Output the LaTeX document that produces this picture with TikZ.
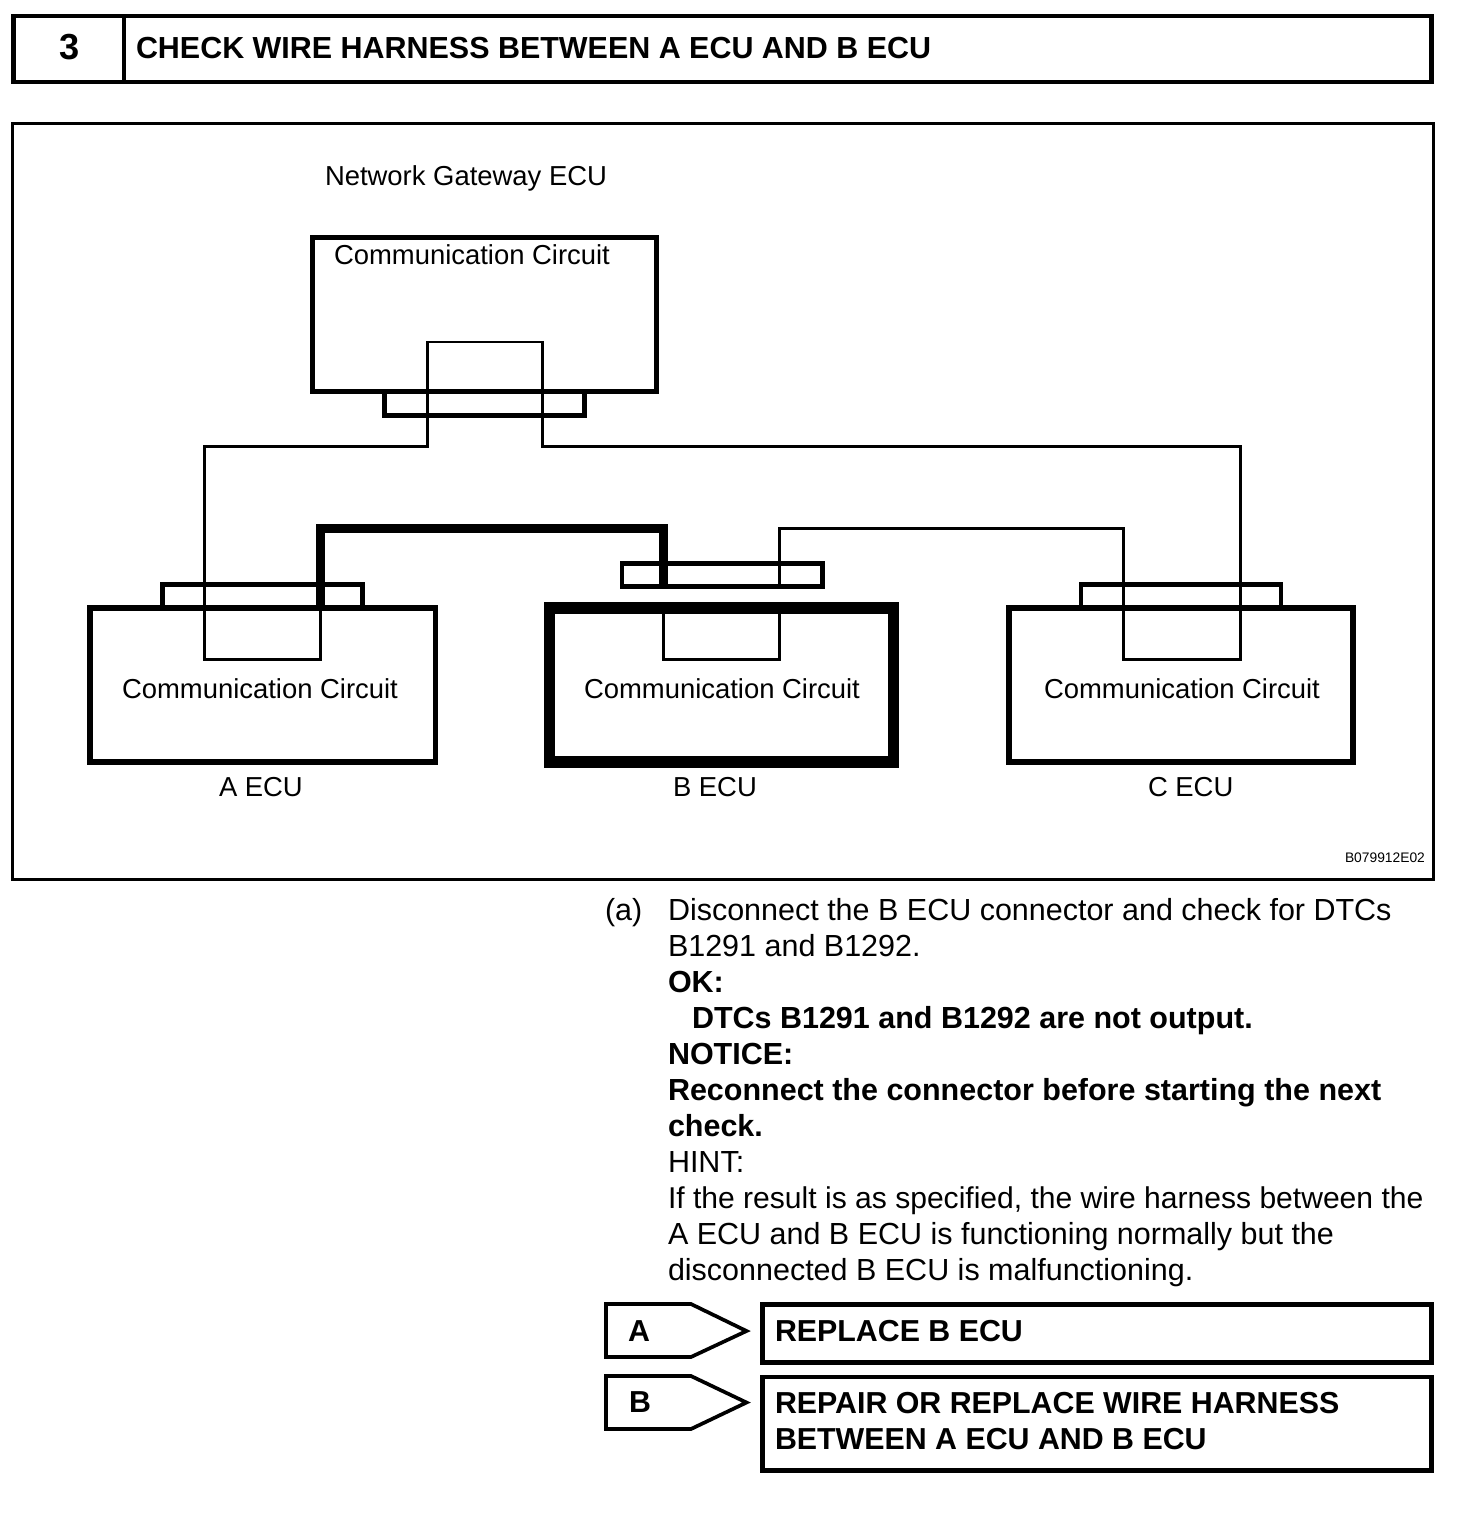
\documentclass[tikz,border=0pt]{standalone}
\usepackage{fontspec}
\setmainfont{Liberation Sans}
\def\txtsize#1{\fontsize{#1}{10.24pt}\selectfont}
\tikzset{
	every node/.style={inner sep=0, outer sep=0},
	ecubox/.style={draw, line width=1.5pt, minimum width=3.45cm, minimum height=1.54cm},
	plugbox/.style={draw, line width=1.3pt, minimum width=2cm},
	resultbox/.style={draw, line width=1.3pt, minimum width=6.685cm},
	tagshape/.style={line width=1.05pt, line join=miter},
	wire/.style={line width=0.85pt},
	label/.style={anchor=base west, font=\txtsize{7.8}},
	headtext/.style={anchor=base west, font=\txtsize{8.63}\bfseries}
}

\begin{document}
\begin{tikzpicture}[x=0.01cm, y=-0.01cm]
	%%%%% START %%%%%
	\useasboundingbox (0, 0) rectangle (1472, 1518);

	% header
	\node[draw, line width=1.33pt, minimum width=14.17cm, minimum height=0.66cm] (header) at (722.5, 49) {};
	\draw[line width=1pt] (124, 16) -- (124, 82);
	\node[anchor=base, font=\txtsize{10.3}\bfseries] (stepnum) at (69.5, 59.5) {3};
	\node[headtext, font=\txtsize{8.66}\bfseries] (title) at (136, 58.5) {CHECK WIRE HARNESS BETWEEN A ECU AND B ECU};

	% frame
	\node[draw, line width=0.85pt, minimum width=14.205cm, minimum height=7.55cm] (frame) at (722.75, 501.5) {};
	\node[label] (gwname) at (325, 185) {Network Gateway ECU};
	\node[anchor=base west, font=\txtsize{3.93}] (code) at (1345, 862) {B079912E02};

	% plugs
	\node[plugbox, minimum height=0.235cm] (gwplug) at (484.4, 403.75) {};
	\node[plugbox, minimum height=0.235cm] (aplug) at (262.6, 596.25) {};
	\node[plugbox, minimum height=0.232cm] (bplug) at (722.2, 574.9) {};
	\node[plugbox, minimum height=0.235cm] (cplug) at (1181, 596.25) {};

	% wires
	\coordinate (atap) at (320.5, 608);
	\coordinate (atop) at (320.5, 528.5);
	\coordinate (btap) at (663.5, 586.5);
	\coordinate (bin) at (663.5, 608);
	\coordinate (cplugend) at (779.5, 586.5);
	\coordinate (cin) at (779.5, 608);
	\draw[wire] (atap) |- (204.7, 659.3) |- (427, 446) |- (542.5, 342) |- (1240, 446) |- (1123, 659.3) |- (779.5, 528.3) -- (cplugend);
	\draw[wire] (cin) |- (663.5, 659.3) -- (bin);
	\draw[line width=2.56pt] (atap) -- (atop) -| (btap);

	% boxes
	\node[ecubox, minimum width=3.44cm] (gwbox) at (484.5, 314.5) {};
	\node[ecubox] (abox) at (262.7, 685) {};
	\node[ecubox, line width=3.2pt, minimum width=3.44cm] (bbox) at (721.7, 685) {};
	\node[ecubox, minimum width=3.44cm] (cbox) at (1181, 685) {};

	% box labels
	\node[label] (gwtext) at (334, 264) {Communication Circuit};
	\node[label] (atext) at (122, 698) {Communication Circuit};
	\node[label] (btext) at (584, 698) {Communication Circuit};
	\node[label] (ctext) at (1044, 698) {Communication Circuit};
	\node[label] (aname) at (219, 796) {A ECU};
	\node[label] (bname) at (673, 796) {B ECU};
	\node[label] (cname) at (1148, 796) {C ECU};

	% steps
	\node[anchor=base west, font=\txtsize{8.67}] (stepa) at (605, 920) {(a)};
	\node[anchor=base west, align=left, font=\txtsize{8.67}] (body) at (668, 1280.5) {Disconnect the B ECU connector and check for DTCs\\
		B1291 and B1292.\\
		\textbf{OK:}\\
		\hspace*{0.24cm}\textbf{DTCs B1291 and B1292 are not output.}\\
		\textbf{NOTICE:}\\
		\textbf{Reconnect the connector before starting the next}\\
		\textbf{check.}\\
		HINT:\\
		{\txtsize{8.55}If the result is as specified, the wire harness between the}\\
		A ECU and B ECU is functioning normally but the\\
		disconnected B ECU is malfunctioning.};

	% results
	\draw[tagshape] (606, 1304) -- (691, 1304) -- (746.5, 1331) -- (691, 1357) -- (606, 1357) -- cycle;
	\draw[tagshape] (606, 1376) -- (691, 1376) -- (746.5, 1402.5) -- (691, 1429) -- (606, 1429) -- cycle;
	\node[headtext] (taga) at (628, 1341) {A};
	\node[headtext] (tagb) at (629, 1412.5) {B};
	\node[resultbox, minimum height=0.578cm] (resa) at (1096.8, 1333.4) {};
	\node[resultbox, minimum height=0.935cm] (resb) at (1096.8, 1423.75) {};
	\node[headtext] (resatext) at (775, 1341.5) {REPLACE B ECU};
	\node[headtext, align=left] (resbtext) at (775, 1449.5) {REPAIR OR REPLACE WIRE HARNESS\\BETWEEN A ECU AND B ECU};
	%%%%% END %%%%%
\end{tikzpicture}
\end{document}
